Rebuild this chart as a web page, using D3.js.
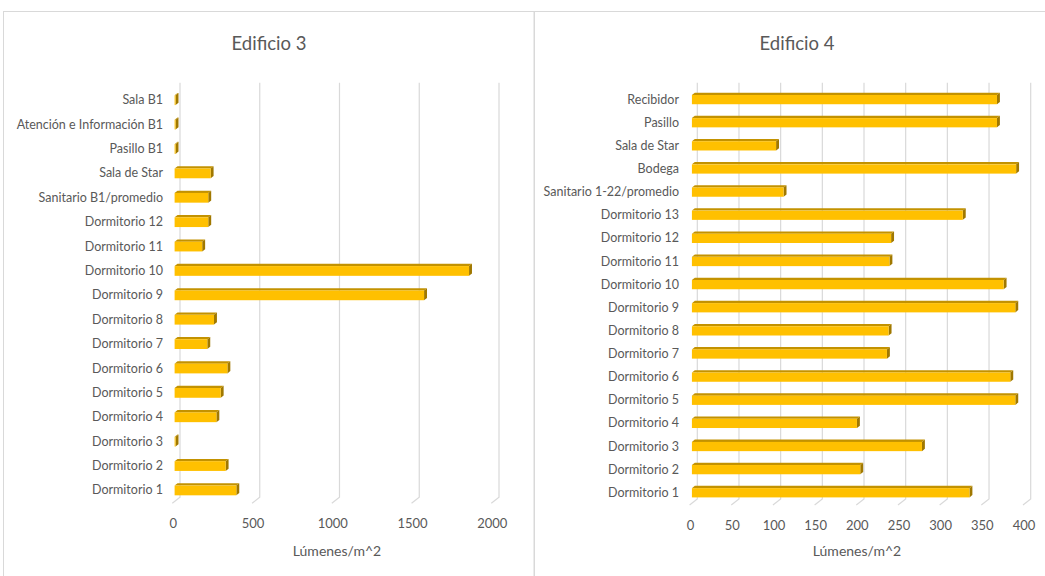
<!DOCTYPE html>
<html lang="es">
<head>
<meta charset="UTF-8">
<title>Edificio 3 / Edificio 4</title>
<script src="https://cdn.jsdelivr.net/npm/d3@7"></script>
<style>
  body { margin: 0; background: #fff; }
  svg text { font-family: Lato, "Open Sans", sans-serif; fill: #595959; }
</style>
</head>
<body>
<div id="chart"></div>
<script>
// Edificio 3 (top to bottom as shown)
var cats3 = ["Sala B1", "Atención e Información B1", "Pasillo B1", "Sala de Star",
  "Sanitario B1/promedio", "Dormitorio 12", "Dormitorio 11", "Dormitorio 10",
  "Dormitorio 9", "Dormitorio 8", "Dormitorio 7", "Dormitorio 6", "Dormitorio 5",
  "Dormitorio 4", "Dormitorio 3", "Dormitorio 2", "Dormitorio 1"];
var vals3 = [6, 6, 6, 226, 211, 211, 173, 1846, 1564, 247, 205, 331, 289, 262, 6, 320, 387];
var ticks3 = [0, 500, 1000, 1500, 2000];

// Edificio 4
var cats4 = ["Recibidor", "Pasillo", "Sala de Star", "Bodega", "Sanitario 1-22/promedio",
  "Dormitorio 13", "Dormitorio 12", "Dormitorio 11", "Dormitorio 10", "Dormitorio 9",
  "Dormitorio 8", "Dormitorio 7", "Dormitorio 6", "Dormitorio 5", "Dormitorio 4",
  "Dormitorio 3", "Dormitorio 2", "Dormitorio 1"];
var vals4 = [366, 366, 101, 389, 110, 325, 239, 237, 374, 388, 236, 234, 382, 388, 198, 276, 202, 333];
var ticks4 = [0, 50, 100, 150, 200, 250, 300, 350, 400];

var W = 1045, H = 576;
var svg = d3.select("#chart").append("svg")
  .attr("width", W).attr("height", H);

// panel frames
svg.append("rect").attr("x", 3.5).attr("y", 11.5).attr("width", 530.5).attr("height", 580)
  .attr("fill", "#fff").attr("stroke", "#d9d9d9");
svg.append("rect").attr("x", 534.5).attr("y", 11.5).attr("width", 530).attr("height", 580)
  .attr("fill", "#fff").attr("stroke", "#d9d9d9");

// 3D depth of the floor
var DX = 7.7, DY = 6;
var T1 = 0.3, T2 = 0.68;

function drawPanel(o) {
  var g = svg.append("g");

  var x = d3.scaleLinear().domain(o.domain).range(o.xRange);
  var y = d3.scaleBand().domain(o.cats).range(o.yRange).paddingInner(0).paddingOuter(0);
  var yTop = o.yRange[0] - DY, yBot = o.yRange[1];

  // gridlines on back wall + floor
  g.selectAll(".grid").data(o.ticks).enter().append("path")
    .attr("fill", "none").attr("stroke", "#d9d9d9").attr("stroke-width", 1.2)
    .attr("d", function (d) {
      var xb = x(d) + DX;
      return "M" + xb + "," + yTop + "L" + xb + "," + (yBot - DY) + "L" + x(d) + "," + yBot;
    });

  // tick labels
  g.selectAll(".tl").data(o.ticks).enter().append("text")
    .attr("x", function (d) { return x(d) + 1; })
    .attr("y", yBot + 25)
    .attr("text-anchor", "middle")
    .attr("font-size", 13)
    .text(function (d) { return d; });

  var bh = y.bandwidth() * 0.4;
  var ddx = (T2 - T1) * DX, ddy = (T2 - T1) * DY;

  var bars = g.selectAll(".bar").data(o.cats).enter().append("g");
  bars.each(function (c, i) {
    var v = o.vals[i];
    var xa = x(0) + T1 * DX, xb = x(v) + T1 * DX;
    var yc = y(c) + y.bandwidth() / 2 - T1 * DY;
    var ya = yc - bh / 2 + ddy / 2;
    var b = d3.select(this);
    // top face
    b.append("polygon")
      .attr("points", [[xa, ya], [xb, ya], [xb + ddx, ya - ddy], [xa + ddx, ya - ddy]].join(" "))
      .attr("fill", "#c39200");
    // side face
    b.append("polygon")
      .attr("points", [[xb, ya], [xb + ddx, ya - ddy], [xb + ddx, ya - ddy + bh], [xb, ya + bh]].join(" "))
      .attr("fill", "#a07800");
    // front face
    b.append("rect")
      .attr("x", xa).attr("y", ya)
      .attr("width", Math.max(0, xb - xa)).attr("height", bh)
      .attr("fill", "#ffc000");
  });

  // category labels
  g.selectAll(".cl").data(o.cats).enter().append("text")
    .attr("x", o.labelX)
    .attr("y", function (c) { return y(c) + y.bandwidth() / 2 - 1; })
    .attr("dy", "0.35em")
    .attr("text-anchor", "end")
    .attr("font-size", 12.5)
    .text(function (c) { return c; });

  // title
  g.append("text")
    .attr("x", o.titleX).attr("y", 50)
    .attr("text-anchor", "middle")
    .attr("font-size", 18.5)
    .text(o.title);

  // axis title
  g.append("text")
    .attr("x", o.axisTitleX).attr("y", 556)
    .attr("text-anchor", "middle")
    .attr("font-size", 14)
    .text("Lúmenes/m^2");
}

drawPanel({
  title: "Edificio 3", titleX: 269, axisTitleX: 337,
  cats: cats3, vals: vals3, ticks: ticks3,
  domain: [0, 2000], xRange: [172.3, 491.3],
  yRange: [88.7, 503.3], labelX: 163
});

drawPanel({
  title: "Edificio 4", titleX: 797, axisTitleX: 857,
  cats: cats4, vals: vals4, ticks: ticks4,
  domain: [0, 400], xRange: [689.6, 1023],
  yRange: [88.7, 505], labelX: 679
});
</script>
</body>
</html>
